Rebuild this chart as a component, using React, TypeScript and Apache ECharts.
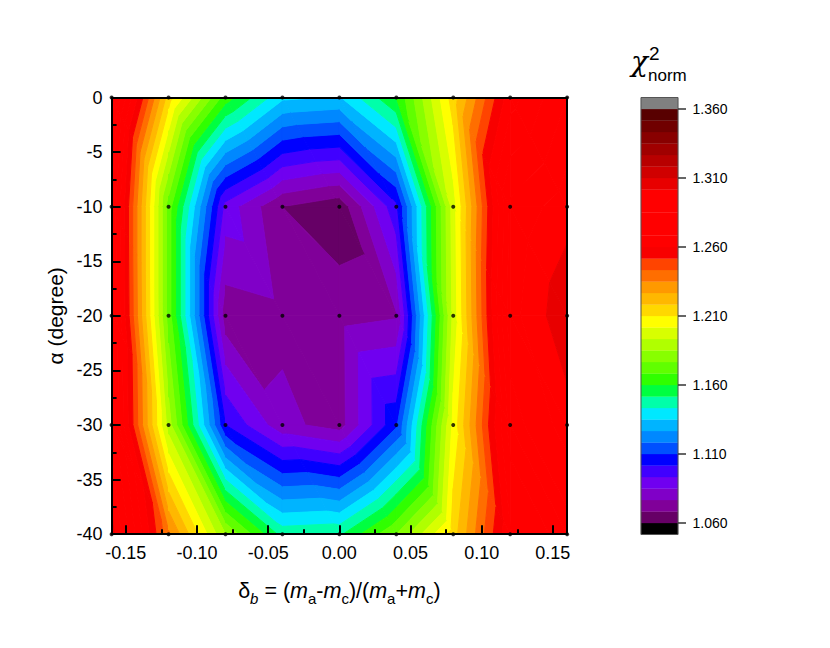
import React, { useEffect, useRef } from "react";
import * as echarts from "echarts";

const deltaValues = [-0.16, -0.12, -0.08, -0.04, 0, 0.04, 0.08, 0.12, 0.16];
const alphaValues = [0, -10, -20, -30, -40];
const chiAlpha0 = [1.2975, 1.2142, 1.1642, 1.1367, 1.1342, 1.16, 1.2142, 1.265, 1.285];
const chiAlpha10 = [1.285, 1.1725, 1.09, 1.0683, 1.0625, 1.0992, 1.1975, 1.2867, 1.2983];
const chiAlpha20 = [1.2867, 1.1725, 1.0713, 1.0742, 1.0733, 1.0758, 1.1958, 1.29, 1.3083];
const chiAlpha30 = [1.2892, 1.1892, 1.1017, 1.0792, 1.0729, 1.1083, 1.2042, 1.2808, 1.2975];
const chiAlpha40 = [1.305, 1.2367, 1.185, 1.1483, 1.15, 1.1767, 1.2142, 1.2675, 1.2808];
const chiRows = [chiAlpha0, chiAlpha10, chiAlpha20, chiAlpha30, chiAlpha40];

const bandColors = [
  "#660066", "#800099", "#8000c8", "#7000f0", "#4000ff", "#0000ff",
  "#0050ff", "#0088ff", "#00b4ff", "#00e8ff", "#00ffaa", "#00ff40",
  "#30ff00", "#60ff00", "#88ff00", "#b0ff00", "#d8ff00", "#ffff00",
  "#ffd800", "#ffb800", "#ff9900", "#ff6e00", "#ff4400", "#f80000",
  "#ff0000", "#ff0000", "#ff0000", "#ff0000", "#ff0000", "#e80000",
  "#d00000", "#b80000", "#a00000", "#880000", "#700000", "#580000",
];
const belowColor = "#000000";
const aboveColor = "#808080";
const levelStart = 1.06;
const levelStep = 1 / 120;

const xMajorTicks = [-0.15, -0.1, -0.05, 0, 0.05, 0.1, 0.15];
const xMinorTicks = [-0.125, -0.075, -0.025, 0.025, 0.075, 0.125];
const barTicks = [1.06, 1.11, 1.16, 1.21, 1.26, 1.31, 1.36];

type P = [number, number, number];

function clipAt(poly: P[], level: number, keepAbove: boolean): P[] {
  const out: P[] = [];
  const inside = (p: P) => (keepAbove ? p[2] >= level : p[2] <= level);
  for (let i = 0; i < poly.length; i++) {
    const a = poly[i];
    const b = poly[(i + 1) % poly.length];
    const ia = inside(a);
    const ib = inside(b);
    if (ia) out.push(a);
    if (ia !== ib) {
      const t = (level - a[2]) / (b[2] - a[2]);
      out.push([a[0] + t * (b[0] - a[0]), a[1] + t * (b[1] - a[1]), level]);
    }
  }
  return out;
}

function buildTriangles(): number[][] {
  const tris: number[][] = [];
  for (let r = 0; r < alphaValues.length - 1; r++) {
    for (let c = 0; c < deltaValues.length - 1; c++) {
      const tl = [deltaValues[c], alphaValues[r], chiRows[r][c]];
      const tr = [deltaValues[c + 1], alphaValues[r], chiRows[r][c + 1]];
      const bl = [deltaValues[c], alphaValues[r + 1], chiRows[r + 1][c]];
      const br = [deltaValues[c + 1], alphaValues[r + 1], chiRows[r + 1][c + 1]];
      tris.push([...tl, ...tr, ...br]);
      tris.push([...tl, ...br, ...bl]);
    }
  }
  return tris;
}

function renderContour(_params: any, api: any) {
  const tri: P[] = [
    [api.value(0), api.value(1), api.value(2)],
    [api.value(3), api.value(4), api.value(5)],
    [api.value(6), api.value(7), api.value(8)],
  ];
  const children: any[] = [];
  bandColors.forEach((color, i) => {
    const lo = levelStart + i * levelStep;
    const hi = lo + levelStep;
    let poly = clipAt(tri, lo, true);
    if (poly.length >= 3) poly = clipAt(poly, hi, false);
    if (poly.length < 3) return;
    children.push({
      type: "polygon",
      shape: { points: poly.map((p) => api.coord([p[0], p[1]])) },
      style: { fill: color, stroke: color, lineWidth: 1, lineJoin: "round" },
      silent: true,
    });
  });
  return { type: "group", children };
}

const barMin = levelStart - levelStep;
const barMax = levelStart + bandColors.length * levelStep + levelStep;
const barColors = [belowColor, ...bandColors, aboveColor];
const barBands = barColors.map((_, i) => [barMin + i * levelStep, barMin + (i + 1) * levelStep]);

function renderBar(params: any, api: any) {
  const a = api.coord([0, api.value(0)]);
  const b = api.coord([1, api.value(1)]);
  return {
    type: "rect",
    shape: { x: a[0], y: b[1], width: b[0] - a[0], height: a[1] - b[1] },
    style: { fill: barColors[params.dataIndex], stroke: barColors[params.dataIndex], lineWidth: 0.3 },
    silent: true,
  };
}

function renderBarFrame(_params: any, api: any) {
  const a = api.coord([0, api.value(0)]);
  const b = api.coord([1, api.value(1)]);
  return {
    type: "rect",
    shape: { x: a[0], y: b[1], width: b[0] - a[0], height: a[1] - b[1] },
    style: { fill: "none", stroke: "#555555", lineWidth: 1 },
    silent: true,
  };
}

const FONT = "Liberation Sans";
const frame = { show: true, onZero: false, lineStyle: { color: "#000", width: 2 } };

export default function App() {
  const ref = useRef<HTMLDivElement>(null);
  useEffect(() => {
    const chart = echarts.init(ref.current!, undefined, { renderer: "svg" });
    const dots: number[][] = [];
    alphaValues.forEach((a) => deltaValues.forEach((d) => dots.push([d, a])));
    const sub = { fontFamily: FONT, fontSize: 15, verticalAlign: "bottom", lineHeight: 31, color: "#000" };
    const main = { fontFamily: FONT, fontSize: 21.5, verticalAlign: "middle", lineHeight: 31, color: "#000" };
    chart.setOption({
      animation: false,
      backgroundColor: "#fff",
      textStyle: { fontFamily: FONT },
      grid: [
        { left: 111.6, top: 97.5, width: 455.5, height: 436.7 },
        { left: 641, top: 97.5, width: 37, height: 437 },
      ],
      xAxis: [
        {
          type: "value", gridIndex: 0, position: "bottom", min: -0.16, max: 0.16, z: 5,
          axisLine: frame,
          axisTick: { show: true, inside: true, length: 9, lineStyle: { color: "#000", width: 2 }, customValues: xMajorTicks },
          axisLabel: {
            show: true, customValues: xMajorTicks, fontFamily: FONT, fontSize: 18, color: "#000", margin: 10,
            formatter: (v: number) => v.toFixed(2),
          },
          splitLine: { show: false },
          name: "{m|δ}{si|b}{m| = (}{mi|m}{s|a}{m|-}{mi|m}{s|c}{m|)/(}{mi|m}{s|a}{m|+}{mi|m}{s|c}{m|)}",
          nameLocation: "middle",
          nameGap: 41,
          nameTextStyle: {
            rich: {
              m: main,
              mi: { ...main, fontStyle: "italic" },
              s: sub,
              si: { ...sub, fontStyle: "italic" },
            },
          },
        },
        {
          type: "value", gridIndex: 0, position: "bottom", min: -0.16, max: 0.16, z: 5,
          axisLine: { show: false, onZero: false },
          axisTick: { show: true, inside: true, length: 5, lineStyle: { color: "#000", width: 2 }, customValues: xMinorTicks },
          axisLabel: { show: false },
          splitLine: { show: false },
        },
        {
          type: "value", gridIndex: 0, position: "top", min: -0.16, max: 0.16, z: 5,
          axisLine: frame, axisTick: { show: false }, axisLabel: { show: false }, splitLine: { show: false },
        },
        { type: "value", gridIndex: 1, min: 0, max: 1, show: false },
      ],
      yAxis: [
        {
          type: "value", gridIndex: 0, position: "left", min: -40, max: 0, interval: 5, z: 5,
          axisLine: frame,
          axisTick: { show: true, inside: true, length: 9, lineStyle: { color: "#000", width: 2 } },
          minorTick: { show: true, splitNumber: 2, length: 5, lineStyle: { color: "#000", width: 2 } },
          axisLabel: { show: true, fontFamily: FONT, fontSize: 18, color: "#000", margin: 9 },
          splitLine: { show: false },
          name: "α (degree)",
          nameLocation: "middle",
          nameRotate: 90,
          nameGap: 42,
          nameTextStyle: { fontFamily: FONT, fontSize: 21, color: "#000" },
        },
        {
          type: "value", gridIndex: 0, position: "right", min: -40, max: 0, z: 5,
          axisLine: frame, axisTick: { show: false }, axisLabel: { show: false }, splitLine: { show: false },
        },
        {
          type: "value", gridIndex: 1, position: "right", min: barMin, max: barMax, z: 5,
          axisLine: { show: false, onZero: false },
          axisTick: { show: true, length: 8, lineStyle: { color: "#333", width: 1.5 }, customValues: barTicks },
          axisLabel: {
            show: true, customValues: barTicks, fontFamily: FONT, fontSize: 14, color: "#000", margin: 14.5,
            formatter: (v: number) => v.toFixed(3),
          },
          splitLine: { show: false },
        },
      ],
      series: [
        {
          type: "custom", xAxisIndex: 0, yAxisIndex: 0, renderItem: renderContour,
          data: buildTriangles(), z: 2, silent: true, clip: true,
          encode: { x: [0, 3, 6], y: [1, 4, 7] },
        },
        {
          type: "scatter", xAxisIndex: 0, yAxisIndex: 0, data: dots, symbolSize: 4,
          itemStyle: { color: "#000" }, z: 6, silent: true, clip: false,
        },
        {
          type: "custom", xAxisIndex: 3, yAxisIndex: 2, renderItem: renderBar,
          data: barBands, z: 2, silent: true, encode: { y: [0, 1] },
        },
        {
          type: "custom", xAxisIndex: 3, yAxisIndex: 2, renderItem: renderBarFrame,
          data: [[barMin, barMax]], z: 3, silent: true, encode: { y: [0, 1] },
        },
      ],
      graphic: [
        { type: "text", left: 631, top: 47, style: { text: "χ", font: `italic 28px "DejaVu Serif"`, fill: "#000" } },
        { type: "text", left: 649, top: 44, style: { text: "2", font: `19px "${FONT}"`, fill: "#000" } },
        { type: "text", left: 648, top: 67, style: { text: "norm", font: `17px "${FONT}"`, fill: "#000" } },
      ],
    });
    return () => chart.dispose();
  }, []);
  return <div ref={ref} style={{ position: "fixed", left: 0, top: 0, width: 830, height: 648 }} />;
}
